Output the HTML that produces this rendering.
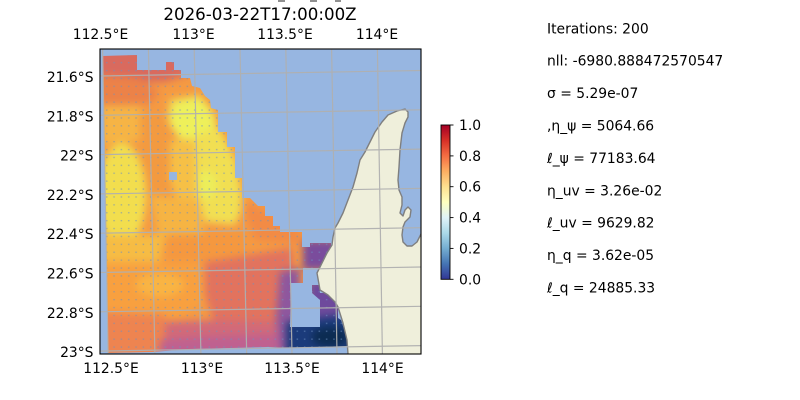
<!DOCTYPE html>
<html><head><meta charset="utf-8"><style>
html,body{margin:0;padding:0;background:#fff;width:800px;height:400px;overflow:hidden}
svg{display:block}
text{font-family:"DejaVu Sans","Liberation Sans",sans-serif;fill:#000}
</style></head><body>
<svg width="800" height="400" viewBox="0 0 800 400" xmlns="http://www.w3.org/2000/svg">
<defs>
  <clipPath id="axclip"><rect x="100" y="49" width="321" height="305"/></clipPath>
  <clipPath id="dataclip">
    <polygon points="102.5,56 137,55 137,70 166,70 166,62 174,62 174,70 181,70 181,78 190,78 192,86 200,88 205,96 210,100 211,108 218,110 218,132 227,132 227,147 235,147 235,178 242,178 242,198 250,198 258,206 265,206 265,216 273,216 273,226 280,226 280,232 302,232 302,247 310,247 310,243 331,243 331,268 303,268 303,283 291,283 290,327 320,327 320,318 338,318 341,320 346,335 348,346 290,348 268,347 192,349 152,352 108,353"/>
    <polygon points="312,285 320,285 320,293 338,293 338,318 320,318 320,300 312,293"/>
  </clipPath>
  <filter id="blur" x="-10%" y="-10%" width="120%" height="120%" color-interpolation-filters="sRGB"><feGaussianBlur stdDeviation="4"/></filter>
  <pattern id="dots" patternUnits="userSpaceOnUse" x="103" y="59" width="7.33" height="7.9">
    <rect x="3" y="3" width="1.5" height="1.3" fill="#6d8fc0" opacity="0.6"/>
  </pattern>
  <linearGradient id="cbar" x1="0" y1="1" x2="0" y2="0">
    <stop offset="0" stop-color="#313695"/>
    <stop offset="0.1" stop-color="#4575b4"/>
    <stop offset="0.2" stop-color="#74add1"/>
    <stop offset="0.3" stop-color="#abd9e9"/>
    <stop offset="0.4" stop-color="#e0f3f8"/>
    <stop offset="0.5" stop-color="#ffffbf"/>
    <stop offset="0.6" stop-color="#fee090"/>
    <stop offset="0.7" stop-color="#fdae61"/>
    <stop offset="0.8" stop-color="#f46d43"/>
    <stop offset="0.9" stop-color="#d73027"/>
    <stop offset="1" stop-color="#a50026"/>
  </linearGradient>
</defs>

<rect x="0" y="0" width="800" height="400" fill="#fff"/>

<g clip-path="url(#axclip)">
  <rect x="100" y="49" width="321" height="305" fill="#97b6e1"/>
  <g clip-path="url(#dataclip)">
    <g filter="url(#blur)">
      <rect x="90" y="40" width="340" height="320" fill="#f59a42"/>
      <polygon points="95,45 190,45 190,74 165,82 140,82 120,76 95,78" fill="#d96a5e"/>
      <polygon points="95,74 140,78 160,92 150,104 95,106" fill="#ec8248"/>
      <polygon points="102,105 140,105 145,140 102,145" fill="#f6b445"/>
      <polygon points="170,100 200,95 215,115 218,135 180,140 168,120" fill="#f0e256"/>
      <ellipse cx="192" cy="120" rx="22" ry="20" fill="#eef05a"/>
      <polygon points="195,135 220,128 236,160 244,205 235,225 205,222 196,190" fill="#f1df52"/>
      <ellipse cx="205" cy="185" rx="12" ry="14" fill="#ecee5a"/>
      <ellipse cx="122" cy="195" rx="24" ry="52" fill="#f2de4e"/>
      <polygon points="140,115 165,115 175,185 150,195 140,160" fill="#f39a40"/>
      <polygon points="170,140 195,140 198,200 180,210 170,180" fill="#f6c046"/>
      <polygon points="150,195 200,200 205,235 160,240" fill="#f6b443"/>
      <polygon points="100,235 165,235 160,262 100,264" fill="#f6bc44"/>
      <polygon points="240,200 300,225 300,245 255,240" fill="#f28b45"/>
      <polygon points="165,235 245,232 250,262 170,265" fill="#f5983f"/>
      <polygon points="205,262 250,255 292,248 298,300 285,325 215,325 205,295" fill="#e2735e"/>
      <polygon points="100,262 200,262 205,300 180,318 100,314" fill="#f8a03f"/>
      <ellipse cx="160" cy="285" rx="24" ry="12" fill="#f9b443"/>
      <polygon points="100,312 165,315 170,360 100,360" fill="#ee8450"/>
      <polygon points="165,322 210,320 280,322 285,338 165,340" fill="#d26a78"/>
      <polygon points="160,340 210,336 285,334 290,360 160,360" fill="#bf6190"/>
      <polygon points="280,272 300,268 300,360 282,360 276,320" fill="#8e579e"/>
      <polygon points="303,240 336,240 336,270 303,270" fill="#7a4c9c"/>
      <polygon points="308,280 345,280 345,322 308,322" fill="#6e4a9c"/>
      <polygon points="286,322 350,314 355,360 286,360" fill="#1b3b7b"/>
      <ellipse cx="330" cy="337" rx="18" ry="10" fill="#0c2c52"/>
    </g>
    <rect x="100" y="49" width="321" height="305" fill="url(#dots)"/>
  </g>
  <rect x="169" y="172" width="8" height="8" fill="#97b6e1"/>

  <polygon fill="#efefdb" stroke="#7f7f7f" stroke-width="1.4" stroke-linejoin="round"
    points="408,112 408,117 405,123 402,133 400,150 399,167 398,180 399,190 402,197 402,205 400,213 403,216 405,210 408,207 411,210 410,217 405,222 403,227 402,235 403,242 407,246 412,246 417,242 421,234 423,234 423,356 348,356 348,354 347,340 343,323 338,307 335,302 328,295 320,290 317,273 320,267 327,253 332,245 333,237 335,228 338,223 343,213 348,200 353,187 357,173 360,160 365,152 370,142 375,132 382,122 388,115 397,111 405,109"/>

  <g stroke="#b0b0b0" stroke-width="1.2" fill="none" opacity="0.95">
    <line x1="102.6" y1="49" x2="108.1" y2="354"/>
    <line x1="148.4" y1="49" x2="154.9" y2="354"/>
    <line x1="194.2" y1="49" x2="200.9" y2="354"/>
    <line x1="240" y1="49" x2="246.7" y2="354"/>
    <line x1="285.8" y1="49" x2="292" y2="354"/>
    <line x1="331.6" y1="49" x2="337" y2="354"/>
    <line x1="377.4" y1="49" x2="382.4" y2="354"/>
    <line x1="100" y1="76" x2="421" y2="70.5"/>
    <line x1="100" y1="115.3" x2="421" y2="109.8"/>
    <line x1="100" y1="154.6" x2="421" y2="149.1"/>
    <line x1="100" y1="193.9" x2="421" y2="188.4"/>
    <line x1="100" y1="233.2" x2="421" y2="227.7"/>
    <line x1="100" y1="272.5" x2="421" y2="267"/>
    <line x1="100" y1="311.8" x2="421" y2="306.3"/>
    <line x1="100" y1="351.1" x2="421" y2="345.6"/>
  </g>
</g>
<rect x="100" y="49" width="321" height="305" fill="none" stroke="#000" stroke-width="1.1"/>

<g stroke="#222" stroke-width="1">
  <line x1="278" y1="1" x2="285" y2="1"/>
  <line x1="310" y1="1" x2="317" y2="1"/>
  <line x1="335" y1="1" x2="341" y2="1"/>
</g>
<text x="260" y="20" font-size="16.67" text-anchor="middle">2026-03-22T17:00:00Z</text>

<g font-size="13.89" text-anchor="middle">
  <text x="100.5" y="39">112.5°E</text>
  <text x="193.5" y="39">113°E</text>
  <text x="285" y="39">113.5°E</text>
  <text x="377" y="39">114°E</text>
  <text x="111" y="373">112.5°E</text>
  <text x="202" y="373">113°E</text>
  <text x="292" y="373">113.5°E</text>
  <text x="382.5" y="373">114°E</text>
</g>
<g font-size="13.89" text-anchor="end">
  <text x="93.5" y="82">21.6°S</text>
  <text x="93.5" y="121.3">21.8°S</text>
  <text x="93.5" y="160.6">22°S</text>
  <text x="93.5" y="199.9">22.2°S</text>
  <text x="93.5" y="239.2">22.4°S</text>
  <text x="93.5" y="278.5">22.6°S</text>
  <text x="93.5" y="317.8">22.8°S</text>
  <text x="93.5" y="357">23°S</text>
</g>

<rect x="441" y="125" width="9" height="154.3" fill="url(#cbar)" stroke="#000" stroke-width="0.9"/>
<g stroke="#000" stroke-width="0.9">
  <line x1="450" y1="125" x2="453.5" y2="125"/>
  <line x1="450" y1="155.9" x2="453.5" y2="155.9"/>
  <line x1="450" y1="186.7" x2="453.5" y2="186.7"/>
  <line x1="450" y1="217.6" x2="453.5" y2="217.6"/>
  <line x1="450" y1="248.4" x2="453.5" y2="248.4"/>
  <line x1="450" y1="279.3" x2="453.5" y2="279.3"/>
</g>
<g font-size="13.89">
  <text x="459" y="130">1.0</text>
  <text x="459" y="160.9">0.8</text>
  <text x="459" y="191.7">0.6</text>
  <text x="459" y="222.6">0.4</text>
  <text x="459" y="253.4">0.2</text>
  <text x="459" y="284.3">0.0</text>
</g>

<g font-size="13.89">
  <text x="547" y="33.3">Iterations: 200</text>
  <text x="547" y="65.7">nll: -6980.888472570547</text>
  <text x="547" y="98.1">σ = 5.29e-07</text>
  <text x="547" y="130.5">,η_ψ = 5064.66</text>
  <text x="547" y="162.9">ℓ_ψ = 77183.64</text>
  <text x="547" y="195.3">η_uv = 3.26e-02</text>
  <text x="547" y="227.7">ℓ_uv = 9629.82</text>
  <text x="547" y="260.1">η_q = 3.62e-05</text>
  <text x="547" y="292.5">ℓ_q = 24885.33</text>
</g>
</svg>
</body></html>
